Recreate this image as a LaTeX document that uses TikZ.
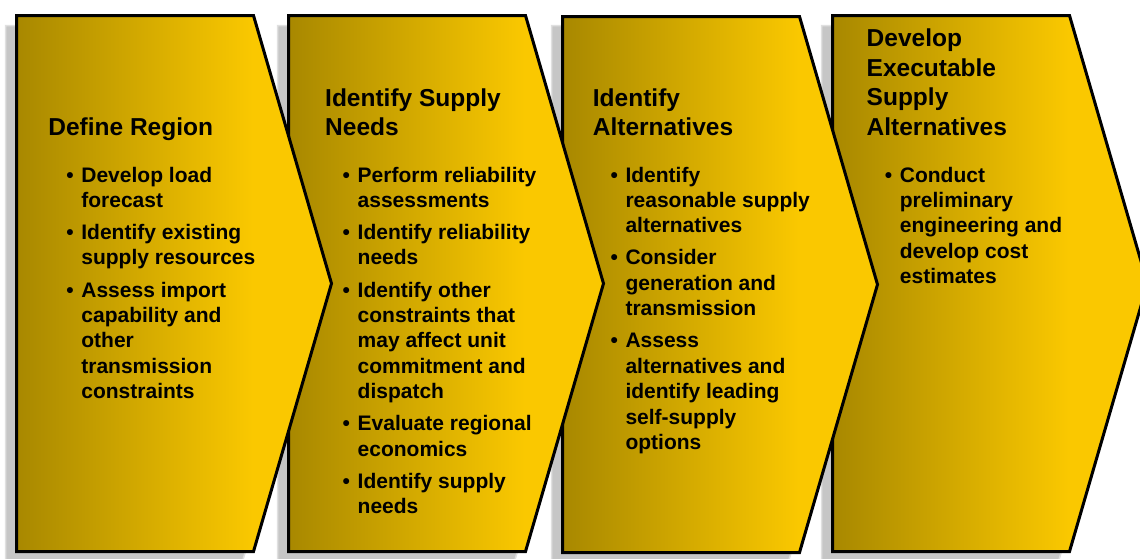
\documentclass[tikz,border=0pt]{standalone}
\usepackage{fontspec}
\setmainfont{Liberation Sans}
\definecolor{gl}{RGB}{168,136,0}
\definecolor{gr}{RGB}{250,200,0}
\definecolor{shfill}{RGB}{198,198,198}
\definecolor{shedge}{RGB}{224,224,224}
\pgfdeclarehorizontalshading{goldshade}{100bp}{color(0bp)=(gl); color(25bp)=(gl); color(62.5bp)=(gr); color(100bp)=(gr)}
\newcommand\chevpath[1]{(#1+1.5,15.5) -- (#1+238.5,15.5) -- (#1+316.5,283.5) -- (#1+238.5,551.5) -- (#1+1.5,551.5) -- cycle}
\newcommand\mytitle[4]{\node[ttl] (#1) at (#2,#3) {#4};}
\newcommand\mybul[4]{\node[btx] (#1) at (#2,#3) {\llap{\makebox[15pt][l]{\textbullet}}#4};}
\newcommand\mycont[4]{\node[btx] (#1) at (#2,#3) {#4};}
\tikzset{
  chev/.style={draw=black, line width=3pt, line join=miter, shade, shading=goldshade},
  shad/.style={fill=shfill, draw=shedge, line width=1.5pt, line join=miter},
  ttl/.style={inner sep=0pt, anchor=base west, font=\fontsize{24.5}{29.4}\selectfont\bfseries},
  btx/.style={inner sep=0pt, anchor=base west, font=\fontsize{21}{25.4}\selectfont\bfseries},
}
\begin{document}
\begin{tikzpicture}[x=1pt, y=-1pt]
\useasboundingbox (0,0) rectangle (1140,558);
\fill[white] (0,0) rectangle (1140,558);
\clip (0,0) rectangle (1140,558);
% shadows
\foreach \L in {15,287,561,831} {
  \path[shad, shift={(-11,10)}] \chevpath{\L};
}
% chevrons (left one on top)
\path[chev] \chevpath{831};
\path[chev, shift={(0,1)}] \chevpath{561};
\path[chev] \chevpath{287};
\path[chev] \chevpath{15};
% panel 1
\mytitle{t1a}{48.2}{135}{Define Region}
\mybul{p1a}{81.2}{182}{Develop load}
\mycont{p1b}{81.2}{207.4}{forecast}
\mybul{p1c}{81.2}{239.5}{Identify existing}
\mycont{p1d}{81.2}{264.9}{supply resources}
\mybul{p1e}{81.2}{297}{Assess import}
\mycont{p1f}{81.2}{322.4}{capability and}
\mycont{p1g}{81.2}{347.8}{other}
\mycont{p1h}{81.2}{373.2}{transmission}
\mycont{p1i}{81.2}{398.6}{constraints}
% panel 2
\mytitle{t2a}{325}{106}{Identify Supply}
\mytitle{t2b}{325}{135}{Needs}
\mybul{p2a}{357.5}{182}{Perform reliability}
\mycont{p2b}{357.5}{207.4}{assessments}
\mybul{p2c}{357.5}{239.5}{Identify reliability}
\mycont{p2d}{357.5}{264.9}{needs}
\mybul{p2e}{357.5}{297}{Identify other}
\mycont{p2f}{357.5}{322.4}{constraints that}
\mycont{p2g}{357.5}{347.8}{may affect unit}
\mycont{p2h}{357.5}{373.2}{commitment and}
\mycont{p2i}{357.5}{398.6}{dispatch}
\mybul{p2j}{357.5}{430.7}{Evaluate regional}
\mycont{p2k}{357.5}{456.1}{economics}
\mybul{p2l}{357.5}{488.2}{Identify supply}
\mycont{p2m}{357.5}{513.6}{needs}
% panel 3
\mytitle{t3a}{592.7}{106}{Identify}
\mytitle{t3b}{592.7}{135}{Alternatives}
\mybul{p3a}{625.3}{182}{Identify}
\mycont{p3b}{625.3}{207.4}{reasonable supply}
\mycont{p3c}{625.3}{232.8}{alternatives}
\mybul{p3d}{625.3}{264.9}{Consider}
\mycont{p3e}{625.3}{290.3}{generation and}
\mycont{p3f}{625.3}{315.7}{transmission}
\mybul{p3g}{625.3}{347.8}{Assess}
\mycont{p3h}{625.3}{373.2}{alternatives and}
\mycont{p3i}{625.3}{398.6}{identify leading}
\mycont{p3j}{625.3}{424}{self-supply}
\mycont{p3k}{625.3}{449.4}{options}
% panel 4
\mytitle{t4a}{866.5}{46.8}{Develop}
\mytitle{t4b}{866.5}{76.2}{Executable}
\mytitle{t4c}{866.5}{105.6}{Supply}
\mytitle{t4d}{866.5}{135}{Alternatives}
\mybul{p4a}{899.7}{182}{Conduct}
\mycont{p4b}{899.7}{207.4}{preliminary}
\mycont{p4c}{899.7}{232.8}{engineering and}
\mycont{p4d}{899.7}{258.2}{develop cost}
\mycont{p4e}{899.7}{283.6}{estimates}
\end{tikzpicture}
\end{document}
